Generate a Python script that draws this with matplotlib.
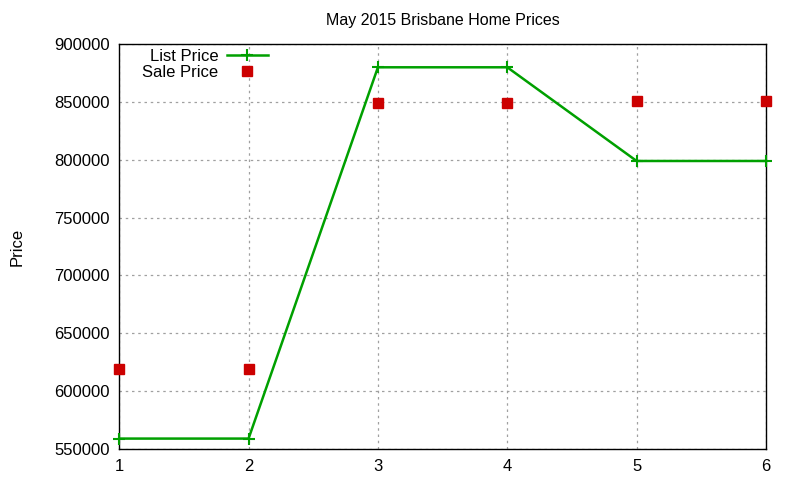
import matplotlib.pyplot as plt
import numpy as np

months = [1, 2, 3, 4, 5, 6]
list_price = [559000, 559000, 880000, 880000, 799000, 799000]
sale_price = [619000, 619000, 849000, 849000, 851000, 851000]

plt.rcParams['font.family'] = ['Liberation Sans', 'DejaVu Sans']

fig = plt.figure(figsize=(8, 4.8), dpi=100)
ax = fig.add_axes([0.149, 0.0646, 0.8085, 0.8434])

ax.plot(months, list_price, color='#00a000', lw=1.8, marker='+', ms=9, mew=1.5,
        label='List Price', clip_on=False, zorder=3)
ax.plot(months, sale_price, ls='none', color='#cc0000', marker='s', ms=6.5,
        label='Sale Price', clip_on=False, zorder=4)

ax.set_xlim(1, 6)
ax.set_ylim(550000, 900000)
ax.set_xticks(months)
ax.set_yticks(np.arange(550000, 900001, 50000))
ax.ticklabel_format(style='plain', axis='y')
ax.grid(True, color='#a0a0a0', ls=(0, (2, 3)), lw=0.9)
ax.tick_params(direction='in', labelsize=12, top=True, right=True, length=0, pad=7)
for s in ax.spines.values():
    s.set_linewidth(1.0)

ax.set_title('May 2015 Brisbane Home Prices', fontsize=11.5, pad=14)
ax.set_ylabel('Price', fontsize=12, labelpad=21)

ax.legend(loc='upper left', bbox_to_anchor=(0.02, 1.012), frameon=False, markerfirst=False,
          fontsize=12, handlelength=2.5, borderaxespad=0.2, labelspacing=0.05,
          handletextpad=0.5)

fig.savefig('out.png')
